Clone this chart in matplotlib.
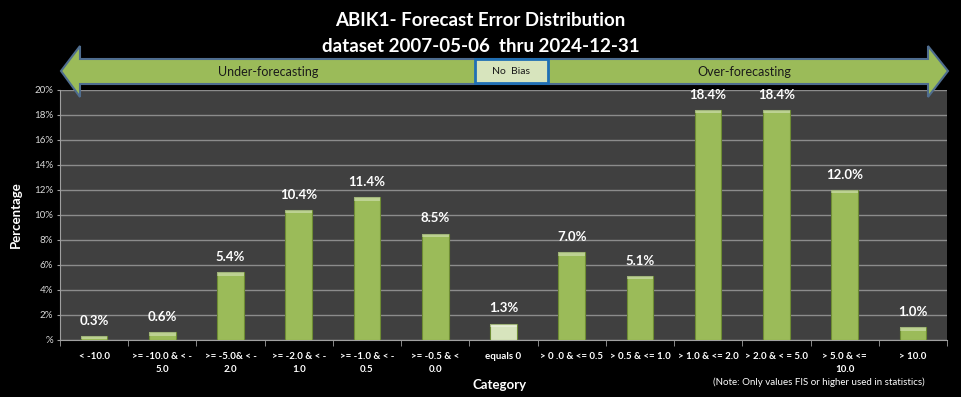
import matplotlib
matplotlib.use("Agg")
import matplotlib.pyplot as plt
import numpy as np
from matplotlib.patches import Polygon, Rectangle

plt.rcParams['font.family'] = ['Lato', 'DejaVu Sans']

# ---------------- data ----------------
categories = ["< -10.0", ">= -10.0 & < -\n5.0", ">= -5.0& < -\n2.0", ">= -2.0 & < -\n1.0",
              ">= -1.0 & < -\n0.5", ">= -0.5 & <\n0.0", "equals 0", "> 0 .0 & <= 0.5",
              "> 0.5 & <= 1.0", "> 1.0 & <= 2.0", "> 2.0 & < = 5.0", "> 5.0 & <=\n10.0", "> 10.0"]
percent = [0.3, 0.6, 5.4, 10.4, 11.4, 8.5, 1.3, 7.0, 5.1, 18.4, 18.4, 12.0, 1.0]
yticks = [0, 2, 4, 6, 8, 10, 12, 14, 16, 18, 20]

green = "#9BBB59"
pale = "#D7E4BD"
colors = [pale if c == "equals 0" else green for c in categories]

fig = plt.figure(figsize=(9.61, 3.97), dpi=100, facecolor="black")
ax = fig.add_axes([0.0624, 0.1436, 0.923, 0.6297])
ax.set_facecolor("#404040")

x = np.arange(len(categories))
bars = ax.bar(x, percent, width=0.39, color=colors, edgecolor="#6E8C34", linewidth=0.8, zorder=3)
# light top rim on each bar
ax.bar(x, [0.25] * len(x), bottom=np.array(percent) - 0.25, width=0.39,
       color="white", alpha=0.35, linewidth=0, zorder=4)

for xi, v in zip(x, percent):
    ax.text(xi, v + 0.75, f"{v:.1f}%", ha="center", va="bottom", color="white",
            fontsize=9.5, fontweight="bold", zorder=5)

ax.set_xlim(-0.5, len(categories) - 0.5)
ax.set_ylim(0, 20)
ax.set_yticks(yticks)
ax.set_yticklabels(["%"] + [f"{t}%" for t in yticks[1:]], color="#D9D9D9", fontsize=7)
ax.yaxis.grid(True, color="#8C8C8C", linewidth=1, zorder=0)
ax.set_xticks(x)
ax.set_xticklabels(categories, color="white", fontsize=7, fontweight="bold", linespacing=1.5)
ax.set_xticks(np.arange(len(categories) + 1) - 0.5, minor=True)
ax.tick_params(axis="x", which="major", length=0, pad=9)
ax.tick_params(axis="x", which="minor", length=4, color="#A0A0A0")
ax.tick_params(axis="y", length=2, color="#A0A0A0", pad=3)
for s in ["top", "right"]:
    ax.spines[s].set_visible(False)
ax.spines["left"].set_color("#A0A0A0")
ax.spines["bottom"].set_color("#A0A0A0")

ax.set_ylabel("Percentage", color="white", fontsize=9.5, fontweight="bold", labelpad=9)
fig.text(0.52, 0.02, "Category", color="white", fontsize=9.5, fontweight="bold", ha="center")
fig.text(0.742, 0.03, "(Note: Only values FIS or higher used in statistics)", color="white",
         fontsize=7, ha="left")

fig.text(0.5, 0.948, "ABIK1- Forecast Error Distribution", color="white", fontsize=13.5,
         fontweight="bold", ha="center", va="center")
fig.text(0.5, 0.882, "dataset 2007-05-06  thru 2024-12-31", color="white", fontsize=13.5,
         fontweight="bold", ha="center", va="center")

# overlay in pixel coordinates for the bias arrow
ov = fig.add_axes([0, 0, 1, 1], facecolor="none")
ov.set_xlim(0, 961)
ov.set_ylim(397, 0)
ov.axis("off")
arrow = [(61, 71), (80, 46), (80, 59), (928, 59), (928, 46), (948, 71),
         (928, 97), (928, 84), (80, 84), (80, 97)]
ov.add_patch(Polygon(arrow, closed=True, facecolor=green, edgecolor="#4F6D8F", linewidth=1.5))
ov.add_patch(Rectangle((475, 59), 73, 24, facecolor=pale, edgecolor="#1F6FB5", linewidth=2))
ov.text(268, 72, "Under-forecasting", ha="center", va="center", fontsize=9, color="#1A1A1A")
ov.text(511, 71, "No  Bias", ha="center", va="center", fontsize=7.5, color="#1A1A1A")
ov.text(744, 72, "Over-forecasting", ha="center", va="center", fontsize=9, color="#1A1A1A")

fig.savefig("out.png", dpi=100, facecolor="black")
